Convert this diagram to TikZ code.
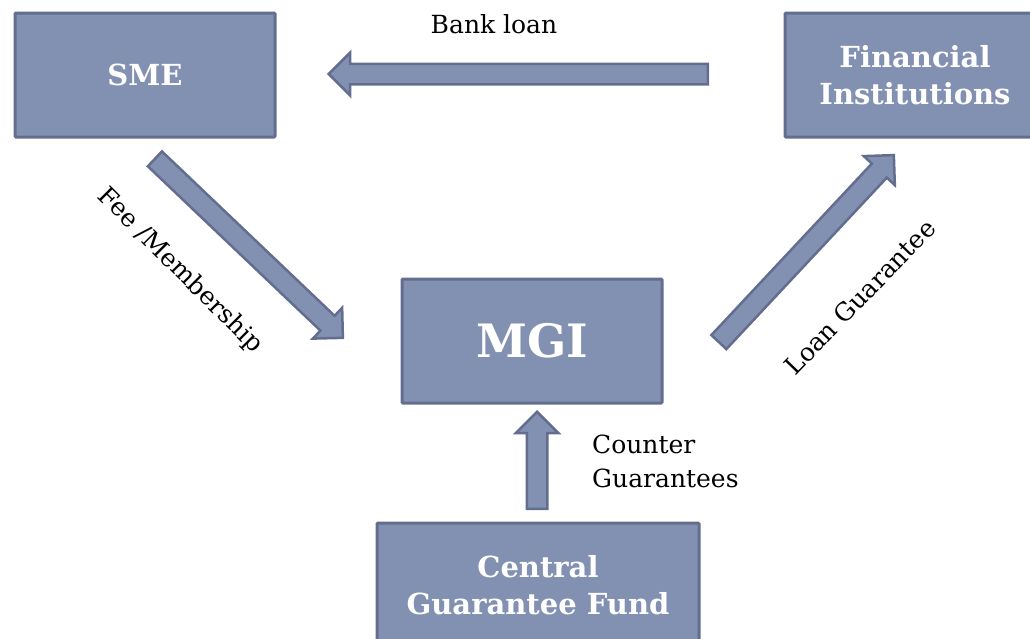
\documentclass[tikz,border=0pt]{standalone}
\usepackage{fontspec}
\setmainfont{DejaVu Serif}
\usetikzlibrary{shapes.arrows,positioning,calc}
\tikzset{every node/.append style={align=center}}
\definecolor{boxfill}{RGB}{130, 144, 178}
\definecolor{boxline}{RGB}{99, 110, 142}

\tikzset{
  entitybox/.style={draw=boxline, fill=boxfill, line width=3pt, rounded corners=1pt,
    text=white, minimum width=260, minimum height=124, inner sep=0pt},
  flowarrow/.style={single arrow, draw=boxline, fill=boxfill, line width=2.5pt,
    inner sep=9pt, single arrow head extend=11pt, single arrow tip angle=90},
  flowlabel/.style={font=\fontsize{25}{34}\selectfont, inner sep=0pt}
}

% block arrow from #1 to #2
\newcommand{\blockarrow}[2]{%
  \path let \p1=(#1), \p2=(#2), \n1={atan2(\y2-\y1,\x2-\x1)}, \n2={veclen(\x2-\x1,\y2-\y1)} in
    node[flowarrow, rotate=\n1, minimum height=\n2, anchor=tail] at (#1) {};}

\begin{document}
\begin{tikzpicture}[x=1pt, y=-1pt]
    \useasboundingbox (0,0) rectangle (1030,638);

    % Entities
    \node[entitybox, font=\fontsize{29}{37}\bfseries\selectfont] (sme) at (145,75) {SME};
    \node[entitybox, font=\fontsize{29}{37}\bfseries\selectfont] (fi) at (915,75) {Financial\\Institutions};
    \node[entitybox, font=\fontsize{46}{50}\bfseries\selectfont] (mgi) at (532,341) {MGI};
    \node[entitybox, minimum width=322, font=\fontsize{29}{37}\bfseries\selectfont] (cgf) at (538,585) {Central\\Guarantee Fund};

    % Arrow ends
    \coordinate (loan-tail) at (709,74);
    \coordinate (loan-tip) at (330,74);
    \coordinate (fee-tail) at (154,158);
    \coordinate (fee-tip) at (342,337);
    \coordinate (guar-tail) at (718,343);
    \coordinate (guar-tip) at (893,156);
    \coordinate (cntr-tail) at (537,510);
    \coordinate (cntr-tip) at (537,413);

    % Flows
    \blockarrow{loan-tail}{loan-tip}
    \blockarrow{fee-tail}{fee-tip}
    \blockarrow{guar-tail}{guar-tip}
    \blockarrow{cntr-tail}{cntr-tip}

    % Labels
    \node[flowlabel] (bank) at (494,24) {Bank loan};
    \node[flowlabel, rotate=-45] (fee) at (180,271) {Fee /Membership};
    \node[flowlabel, rotate=46] (guar) at (860,297) {Loan Guarantee};
    \node[flowlabel, align=left, anchor=west] (cntr) at (592,461) {Counter\\Guarantees};
\end{tikzpicture}
\end{document}
